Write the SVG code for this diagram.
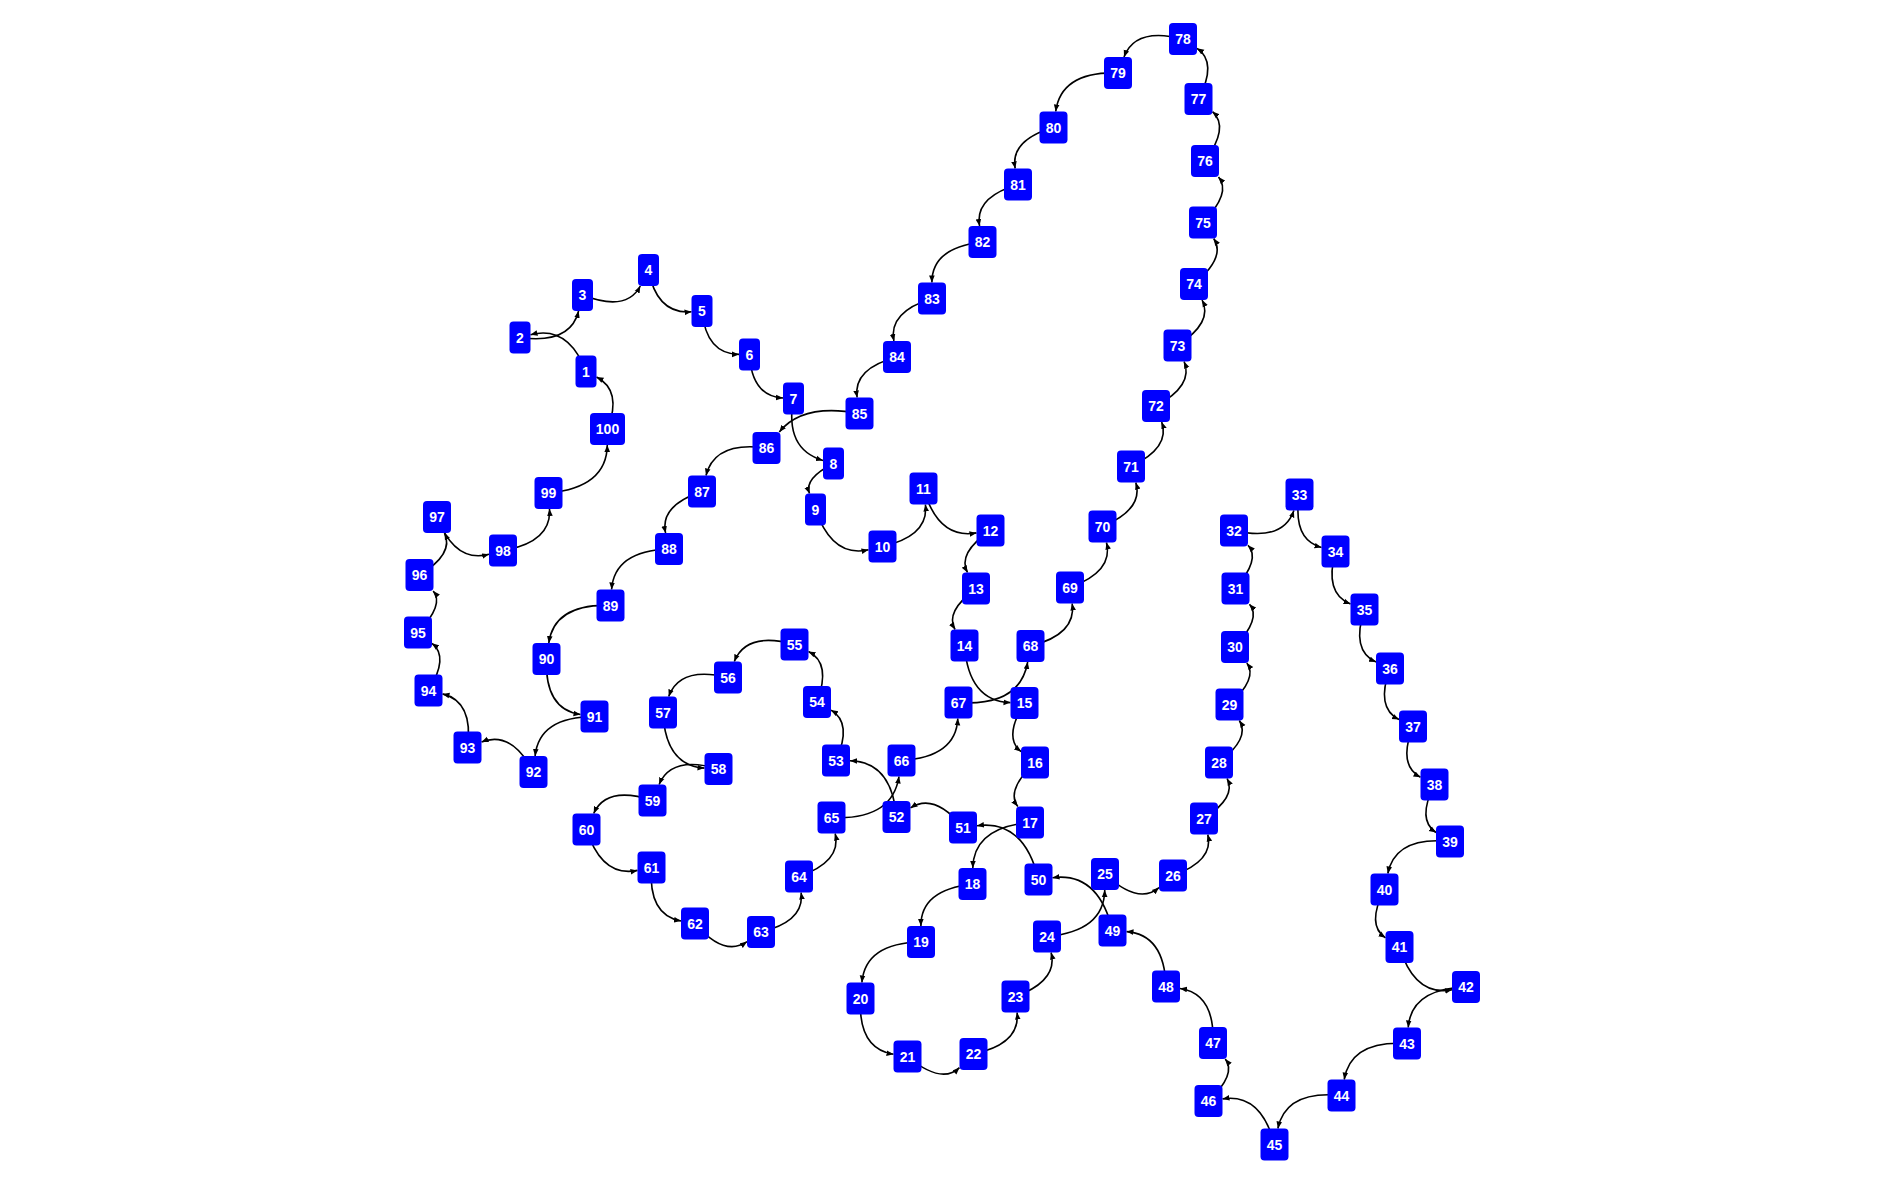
<svg xmlns="http://www.w3.org/2000/svg" width="1884" height="1184" viewBox="0 0 1884 1184">
<style>
.node rect{fill:#0000ff;}
.node text{fill:#fff;font-family:"Liberation Sans",Arial,sans-serif;font-weight:bold;font-size:14px;text-anchor:middle;}
#edges path{fill:none;stroke:#000;stroke-width:1.6;marker-end:url(#arr);}
</style>
<defs>
<marker id="arr" viewBox="0 0 10 10" refX="10" refY="5" markerWidth="7" markerHeight="7" markerUnits="userSpaceOnUse" orient="auto"><path d="M0,1 L10,5 L0,9 z" fill="#000"/></marker>
</defs>
<rect width="1884" height="1184" fill="#fff"/>
<g id="edges">
<path d="M586 371.5 Q568.3 324.8 530.5 334.7"/>
<path d="M520 337.5 Q570.4 344.4 578.6 311"/>
<path d="M582.5 295 Q626.75 312.2 640.3 286"/>
<path d="M648.5 270 Q656.8 314.6 691.5 311.8"/>
<path d="M702 311 Q706.2 354.1 739 354.4"/>
<path d="M749.5 354.5 Q751.7 396.3 783 397.95"/>
<path d="M793.5 398.5 Q784.25 449 823 460.4"/>
<path d="M833.5 463.5 Q803.8 478.4 809.5 493.5"/>
<path d="M815.5 509.5 Q832.35 558.15 868.5 549.75"/>
<path d="M882.5 546.5 Q929.1 535.95 925.4 504.5"/>
<path d="M923.5 488.5 Q938.1 539.65 976.5 532.9"/>
<path d="M990.5 530.5 Q957.15 552.975 967.5 572.5"/>
<path d="M976 588.5 Q944.6 611.8 955.05 629.5"/>
<path d="M964.5 645.5 Q968.6 701.25 1010.5 702.6"/>
<path d="M1024.5 703 Q1003 737.5 1021 751.6"/>
<path d="M1035 762.5 Q1005.5 790.25 1017.8 806.5"/>
<path d="M1030 822.5 Q973.6 827.4 972.8 868"/>
<path d="M972.5 884 Q920.65 889.8 920.9 926"/>
<path d="M921 942 Q865.3 943 861.9 982.5"/>
<path d="M860.5 998.5 Q857.9 1048.65 893.5 1054.3"/>
<path d="M907.5 1056.5 Q941.6 1084.95 959.5 1067.6"/>
<path d="M973.5 1054 Q1020.4 1044.15 1017.1 1012.5"/>
<path d="M1015.5 996.5 Q1058.25 980.7 1051.1 952.5"/>
<path d="M1047 936.5 Q1104.1 931.35 1104.75 890"/>
<path d="M1105 874 Q1138.3 905.35 1159 887.55"/>
<path d="M1173 875.5 Q1214.15 860.95 1207.8 834.5"/>
<path d="M1204 818.5 Q1236.7 797.25 1227.1 778.5"/>
<path d="M1219 762.5 Q1250.35 738.2 1239.4 720.5"/>
<path d="M1229.5 704.5 Q1258.1 678.2 1246.85 663"/>
<path d="M1235 647 Q1261.6 618 1249.5 604.3"/>
<path d="M1235.5 588.5 Q1260.85 558.8 1248 545.3"/>
<path d="M1234 530.5 Q1282.95 541.975 1293.9 510.5"/>
<path d="M1299.5 494.5 Q1291.85 539.2 1321.5 547.55"/>
<path d="M1335.5 551.5 Q1323.9 593.55 1350.5 604"/>
<path d="M1364.5 609.5 Q1350.7 650.5 1376 662.1"/>
<path d="M1390 668.5 Q1375.4 707.85 1399 719.55"/>
<path d="M1413 726.5 Q1397.65 765.175 1420.5 777.2"/>
<path d="M1434.5 784.5 Q1416.6 819.975 1436 832.5"/>
<path d="M1450 841.5 Q1395.65 836.025 1387.8 873.5"/>
<path d="M1384.5 889.5 Q1366.1 925 1385.5 937.8"/>
<path d="M1399.5 947 Q1414.75 996.9 1452 989.7"/>
<path d="M1466 987 Q1411.1 988.7 1408.2 1027.5"/>
<path d="M1407 1043.5 Q1350.85 1040 1344.2 1079.5"/>
<path d="M1341.5 1095.5 Q1285.95 1089.85 1277.85 1128.5"/>
<path d="M1274.5 1144.5 Q1261.1 1093.05 1222.5 1098.9"/>
<path d="M1208.5 1101 Q1236.85 1074 1225.3 1059"/>
<path d="M1213 1043 Q1214.9 993.6 1180 988.5"/>
<path d="M1166 986.5 Q1164.45 934.4 1126.5 931.6"/>
<path d="M1112.5 930.5 Q1098.45 871.7 1052.5 877.7"/>
<path d="M1038.5 879.5 Q1024.15 819.5 977 825.7"/>
<path d="M963 827.5 Q934.5 792.3 910.5 807.9"/>
<path d="M896.5 817 Q891.7 761.5 850 760.8"/>
<path d="M836 760.5 Q852.8 722.7 831 710.1"/>
<path d="M817 702 Q831.6 663.1 808.5 651.5"/>
<path d="M794.5 644.5 Q746.4 631.1 734.3 661.5"/>
<path d="M728 677.5 Q679.75 665.75 668.7 696.5"/>
<path d="M663 712.5 Q665.3 765.7 704.5 768.1"/>
<path d="M718.5 769 Q671.3 755.05 659.1 784.5"/>
<path d="M652.5 800.5 Q606.45 785.3 593.7 813.5"/>
<path d="M586.5 829.5 Q601.9 877.75 637.5 870.4"/>
<path d="M651.5 867.5 Q648.05 915.075 681 921"/>
<path d="M695 923.5 Q724.2 957.45 747 941.7"/>
<path d="M761 932 Q804.975 921.35 801.1 892.5"/>
<path d="M799 876.5 Q841.8 861.6 835.2 833.5"/>
<path d="M831.5 817.5 Q892.15 820.5 899 776.5"/>
<path d="M901.5 760.5 Q956.1 757.15 957.8 718.5"/>
<path d="M958.5 702.5 Q1019.9 706.65 1027.7 662"/>
<path d="M1030.5 646 Q1076.6 634.5 1072.2 603.5"/>
<path d="M1070 587.5 Q1113.7 571.6 1106.5 542.5"/>
<path d="M1102.5 526.5 Q1143.75 509.3 1135.8 482.5"/>
<path d="M1131 466.5 Q1170.7 447.5 1161.7 422"/>
<path d="M1156 406 Q1193.975 385.425 1184.1 361.5"/>
<path d="M1177.5 345.5 Q1213.4 322.2 1202.1 300"/>
<path d="M1194 284 Q1226.2 257.3 1213.7 238.5"/>
<path d="M1203 222.5 Q1231.7 192.65 1218.5 177"/>
<path d="M1205 161 Q1229.65 127.075 1212.5 111.6"/>
<path d="M1198.5 99 Q1217.75 62.025 1197 48.3"/>
<path d="M1183 39 Q1135.2 26.75 1124 57"/>
<path d="M1118 73 Q1061.2 71.2 1055.7 111.5"/>
<path d="M1053.5 127.5 Q1010.1 140 1015.2 168.5"/>
<path d="M1018 184.5 Q974.4 197.3 979.6 226"/>
<path d="M982.5 242 Q931.8 247.5 931.9 282.5"/>
<path d="M932 298.5 Q888.2 312 893.9 341"/>
<path d="M897 357 Q852.8 368.4 857.1 397.5"/>
<path d="M859.5 413.5 Q802.65 402.85 779.3 432"/>
<path d="M766.5 448 Q714.7 440.7 706 475.5"/>
<path d="M702 491.5 Q659.6 505.4 665.6 533"/>
<path d="M669 549 Q614.3 550.9 611.6 589.5"/>
<path d="M610.5 605.5 Q554.4 603.45 548.8 643"/>
<path d="M546.5 659 Q544.6 709.35 580.5 714.5"/>
<path d="M594.5 716.5 Q539 716.8 535.1 756"/>
<path d="M533.5 772 Q511.5 730 481.5 742"/>
<path d="M467.5 747.5 Q473.65 701.45 442.5 693.9"/>
<path d="M428.5 690.5 Q449.35 656.775 432 643.3"/>
<path d="M418 632.5 Q444.6 604.4 433.2 591"/>
<path d="M419.5 575 Q454.35 553.875 444.5 533"/>
<path d="M437 517 Q454.9 563.45 489 554.3"/>
<path d="M503 550.5 Q551.6 542.2 549.5 509"/>
<path d="M548.5 493 Q606.8 487.55 607.3 445"/>
<path d="M607.5 429 Q622.6 390.6 596.5 377"/>
</g>
<g id="n1" class="node"><rect x="575.5" y="355.5" width="21" height="32" rx="4"/><text x="586" y="376.5">1</text></g>
<g id="n2" class="node"><rect x="509.5" y="321.5" width="21" height="32" rx="4"/><text x="520" y="342.5">2</text></g>
<g id="n3" class="node"><rect x="572" y="279" width="21" height="32" rx="4"/><text x="582.5" y="300">3</text></g>
<g id="n4" class="node"><rect x="638" y="254" width="21" height="32" rx="4"/><text x="648.5" y="275">4</text></g>
<g id="n5" class="node"><rect x="691.5" y="295" width="21" height="32" rx="4"/><text x="702" y="316">5</text></g>
<g id="n6" class="node"><rect x="739" y="338.5" width="21" height="32" rx="4"/><text x="749.5" y="359.5">6</text></g>
<g id="n7" class="node"><rect x="783" y="382.5" width="21" height="32" rx="4"/><text x="793.5" y="403.5">7</text></g>
<g id="n8" class="node"><rect x="823" y="447.5" width="21" height="32" rx="4"/><text x="833.5" y="468.5">8</text></g>
<g id="n9" class="node"><rect x="805" y="493.5" width="21" height="32" rx="4"/><text x="815.5" y="514.5">9</text></g>
<g id="n10" class="node"><rect x="868.5" y="530.5" width="28" height="32" rx="4"/><text x="882.5" y="551.5">10</text></g>
<g id="n11" class="node"><rect x="909.5" y="472.5" width="28" height="32" rx="4"/><text x="923.5" y="493.5">11</text></g>
<g id="n12" class="node"><rect x="976.5" y="514.5" width="28" height="32" rx="4"/><text x="990.5" y="535.5">12</text></g>
<g id="n13" class="node"><rect x="962" y="572.5" width="28" height="32" rx="4"/><text x="976" y="593.5">13</text></g>
<g id="n14" class="node"><rect x="950.5" y="629.5" width="28" height="32" rx="4"/><text x="964.5" y="650.5">14</text></g>
<g id="n15" class="node"><rect x="1010.5" y="687" width="28" height="32" rx="4"/><text x="1024.5" y="708">15</text></g>
<g id="n16" class="node"><rect x="1021" y="746.5" width="28" height="32" rx="4"/><text x="1035" y="767.5">16</text></g>
<g id="n17" class="node"><rect x="1016" y="806.5" width="28" height="32" rx="4"/><text x="1030" y="827.5">17</text></g>
<g id="n18" class="node"><rect x="958.5" y="868" width="28" height="32" rx="4"/><text x="972.5" y="889">18</text></g>
<g id="n19" class="node"><rect x="907" y="926" width="28" height="32" rx="4"/><text x="921" y="947">19</text></g>
<g id="n20" class="node"><rect x="846.5" y="982.5" width="28" height="32" rx="4"/><text x="860.5" y="1003.5">20</text></g>
<g id="n21" class="node"><rect x="893.5" y="1040.5" width="28" height="32" rx="4"/><text x="907.5" y="1061.5">21</text></g>
<g id="n22" class="node"><rect x="959.5" y="1038" width="28" height="32" rx="4"/><text x="973.5" y="1059">22</text></g>
<g id="n23" class="node"><rect x="1001.5" y="980.5" width="28" height="32" rx="4"/><text x="1015.5" y="1001.5">23</text></g>
<g id="n24" class="node"><rect x="1033" y="920.5" width="28" height="32" rx="4"/><text x="1047" y="941.5">24</text></g>
<g id="n25" class="node"><rect x="1091" y="858" width="28" height="32" rx="4"/><text x="1105" y="879">25</text></g>
<g id="n26" class="node"><rect x="1159" y="859.5" width="28" height="32" rx="4"/><text x="1173" y="880.5">26</text></g>
<g id="n27" class="node"><rect x="1190" y="802.5" width="28" height="32" rx="4"/><text x="1204" y="823.5">27</text></g>
<g id="n28" class="node"><rect x="1205" y="746.5" width="28" height="32" rx="4"/><text x="1219" y="767.5">28</text></g>
<g id="n29" class="node"><rect x="1215.5" y="688.5" width="28" height="32" rx="4"/><text x="1229.5" y="709.5">29</text></g>
<g id="n30" class="node"><rect x="1221" y="631" width="28" height="32" rx="4"/><text x="1235" y="652">30</text></g>
<g id="n31" class="node"><rect x="1221.5" y="572.5" width="28" height="32" rx="4"/><text x="1235.5" y="593.5">31</text></g>
<g id="n32" class="node"><rect x="1220" y="514.5" width="28" height="32" rx="4"/><text x="1234" y="535.5">32</text></g>
<g id="n33" class="node"><rect x="1285.5" y="478.5" width="28" height="32" rx="4"/><text x="1299.5" y="499.5">33</text></g>
<g id="n34" class="node"><rect x="1321.5" y="535.5" width="28" height="32" rx="4"/><text x="1335.5" y="556.5">34</text></g>
<g id="n35" class="node"><rect x="1350.5" y="593.5" width="28" height="32" rx="4"/><text x="1364.5" y="614.5">35</text></g>
<g id="n36" class="node"><rect x="1376" y="652.5" width="28" height="32" rx="4"/><text x="1390" y="673.5">36</text></g>
<g id="n37" class="node"><rect x="1399" y="710.5" width="28" height="32" rx="4"/><text x="1413" y="731.5">37</text></g>
<g id="n38" class="node"><rect x="1420.5" y="768.5" width="28" height="32" rx="4"/><text x="1434.5" y="789.5">38</text></g>
<g id="n39" class="node"><rect x="1436" y="825.5" width="28" height="32" rx="4"/><text x="1450" y="846.5">39</text></g>
<g id="n40" class="node"><rect x="1370.5" y="873.5" width="28" height="32" rx="4"/><text x="1384.5" y="894.5">40</text></g>
<g id="n41" class="node"><rect x="1385.5" y="931" width="28" height="32" rx="4"/><text x="1399.5" y="952">41</text></g>
<g id="n42" class="node"><rect x="1452" y="971" width="28" height="32" rx="4"/><text x="1466" y="992">42</text></g>
<g id="n43" class="node"><rect x="1393" y="1027.5" width="28" height="32" rx="4"/><text x="1407" y="1048.5">43</text></g>
<g id="n44" class="node"><rect x="1327.5" y="1079.5" width="28" height="32" rx="4"/><text x="1341.5" y="1100.5">44</text></g>
<g id="n45" class="node"><rect x="1260.5" y="1128.5" width="28" height="32" rx="4"/><text x="1274.5" y="1149.5">45</text></g>
<g id="n46" class="node"><rect x="1194.5" y="1085" width="28" height="32" rx="4"/><text x="1208.5" y="1106">46</text></g>
<g id="n47" class="node"><rect x="1199" y="1027" width="28" height="32" rx="4"/><text x="1213" y="1048">47</text></g>
<g id="n48" class="node"><rect x="1152" y="970.5" width="28" height="32" rx="4"/><text x="1166" y="991.5">48</text></g>
<g id="n49" class="node"><rect x="1098.5" y="914.5" width="28" height="32" rx="4"/><text x="1112.5" y="935.5">49</text></g>
<g id="n50" class="node"><rect x="1024.5" y="863.5" width="28" height="32" rx="4"/><text x="1038.5" y="884.5">50</text></g>
<g id="n51" class="node"><rect x="949" y="811.5" width="28" height="32" rx="4"/><text x="963" y="832.5">51</text></g>
<g id="n52" class="node"><rect x="882.5" y="801" width="28" height="32" rx="4"/><text x="896.5" y="822">52</text></g>
<g id="n53" class="node"><rect x="822" y="744.5" width="28" height="32" rx="4"/><text x="836" y="765.5">53</text></g>
<g id="n54" class="node"><rect x="803" y="686" width="28" height="32" rx="4"/><text x="817" y="707">54</text></g>
<g id="n55" class="node"><rect x="780.5" y="628.5" width="28" height="32" rx="4"/><text x="794.5" y="649.5">55</text></g>
<g id="n56" class="node"><rect x="714" y="661.5" width="28" height="32" rx="4"/><text x="728" y="682.5">56</text></g>
<g id="n57" class="node"><rect x="649" y="696.5" width="28" height="32" rx="4"/><text x="663" y="717.5">57</text></g>
<g id="n58" class="node"><rect x="704.5" y="753" width="28" height="32" rx="4"/><text x="718.5" y="774">58</text></g>
<g id="n59" class="node"><rect x="638.5" y="784.5" width="28" height="32" rx="4"/><text x="652.5" y="805.5">59</text></g>
<g id="n60" class="node"><rect x="572.5" y="813.5" width="28" height="32" rx="4"/><text x="586.5" y="834.5">60</text></g>
<g id="n61" class="node"><rect x="637.5" y="851.5" width="28" height="32" rx="4"/><text x="651.5" y="872.5">61</text></g>
<g id="n62" class="node"><rect x="681" y="907.5" width="28" height="32" rx="4"/><text x="695" y="928.5">62</text></g>
<g id="n63" class="node"><rect x="747" y="916" width="28" height="32" rx="4"/><text x="761" y="937">63</text></g>
<g id="n64" class="node"><rect x="785" y="860.5" width="28" height="32" rx="4"/><text x="799" y="881.5">64</text></g>
<g id="n65" class="node"><rect x="817.5" y="801.5" width="28" height="32" rx="4"/><text x="831.5" y="822.5">65</text></g>
<g id="n66" class="node"><rect x="887.5" y="744.5" width="28" height="32" rx="4"/><text x="901.5" y="765.5">66</text></g>
<g id="n67" class="node"><rect x="944.5" y="686.5" width="28" height="32" rx="4"/><text x="958.5" y="707.5">67</text></g>
<g id="n68" class="node"><rect x="1016.5" y="630" width="28" height="32" rx="4"/><text x="1030.5" y="651">68</text></g>
<g id="n69" class="node"><rect x="1056" y="571.5" width="28" height="32" rx="4"/><text x="1070" y="592.5">69</text></g>
<g id="n70" class="node"><rect x="1088.5" y="510.5" width="28" height="32" rx="4"/><text x="1102.5" y="531.5">70</text></g>
<g id="n71" class="node"><rect x="1117" y="450.5" width="28" height="32" rx="4"/><text x="1131" y="471.5">71</text></g>
<g id="n72" class="node"><rect x="1142" y="390" width="28" height="32" rx="4"/><text x="1156" y="411">72</text></g>
<g id="n73" class="node"><rect x="1163.5" y="329.5" width="28" height="32" rx="4"/><text x="1177.5" y="350.5">73</text></g>
<g id="n74" class="node"><rect x="1180" y="268" width="28" height="32" rx="4"/><text x="1194" y="289">74</text></g>
<g id="n75" class="node"><rect x="1189" y="206.5" width="28" height="32" rx="4"/><text x="1203" y="227.5">75</text></g>
<g id="n76" class="node"><rect x="1191" y="145" width="28" height="32" rx="4"/><text x="1205" y="166">76</text></g>
<g id="n77" class="node"><rect x="1184.5" y="83" width="28" height="32" rx="4"/><text x="1198.5" y="104">77</text></g>
<g id="n78" class="node"><rect x="1169" y="23" width="28" height="32" rx="4"/><text x="1183" y="44">78</text></g>
<g id="n79" class="node"><rect x="1104" y="57" width="28" height="32" rx="4"/><text x="1118" y="78">79</text></g>
<g id="n80" class="node"><rect x="1039.5" y="111.5" width="28" height="32" rx="4"/><text x="1053.5" y="132.5">80</text></g>
<g id="n81" class="node"><rect x="1004" y="168.5" width="28" height="32" rx="4"/><text x="1018" y="189.5">81</text></g>
<g id="n82" class="node"><rect x="968.5" y="226" width="28" height="32" rx="4"/><text x="982.5" y="247">82</text></g>
<g id="n83" class="node"><rect x="918" y="282.5" width="28" height="32" rx="4"/><text x="932" y="303.5">83</text></g>
<g id="n84" class="node"><rect x="883" y="341" width="28" height="32" rx="4"/><text x="897" y="362">84</text></g>
<g id="n85" class="node"><rect x="845.5" y="397.5" width="28" height="32" rx="4"/><text x="859.5" y="418.5">85</text></g>
<g id="n86" class="node"><rect x="752.5" y="432" width="28" height="32" rx="4"/><text x="766.5" y="453">86</text></g>
<g id="n87" class="node"><rect x="688" y="475.5" width="28" height="32" rx="4"/><text x="702" y="496.5">87</text></g>
<g id="n88" class="node"><rect x="655" y="533" width="28" height="32" rx="4"/><text x="669" y="554">88</text></g>
<g id="n89" class="node"><rect x="596.5" y="589.5" width="28" height="32" rx="4"/><text x="610.5" y="610.5">89</text></g>
<g id="n90" class="node"><rect x="532.5" y="643" width="28" height="32" rx="4"/><text x="546.5" y="664">90</text></g>
<g id="n91" class="node"><rect x="580.5" y="700.5" width="28" height="32" rx="4"/><text x="594.5" y="721.5">91</text></g>
<g id="n92" class="node"><rect x="519.5" y="756" width="28" height="32" rx="4"/><text x="533.5" y="777">92</text></g>
<g id="n93" class="node"><rect x="453.5" y="731.5" width="28" height="32" rx="4"/><text x="467.5" y="752.5">93</text></g>
<g id="n94" class="node"><rect x="414.5" y="674.5" width="28" height="32" rx="4"/><text x="428.5" y="695.5">94</text></g>
<g id="n95" class="node"><rect x="404" y="616.5" width="28" height="32" rx="4"/><text x="418" y="637.5">95</text></g>
<g id="n96" class="node"><rect x="405.5" y="559" width="28" height="32" rx="4"/><text x="419.5" y="580">96</text></g>
<g id="n97" class="node"><rect x="423" y="501" width="28" height="32" rx="4"/><text x="437" y="522">97</text></g>
<g id="n98" class="node"><rect x="489" y="534.5" width="28" height="32" rx="4"/><text x="503" y="555.5">98</text></g>
<g id="n99" class="node"><rect x="534.5" y="477" width="28" height="32" rx="4"/><text x="548.5" y="498">99</text></g>
<g id="n100" class="node"><rect x="590" y="413" width="35" height="32" rx="4"/><text x="607.5" y="434">100</text></g>
</svg>
